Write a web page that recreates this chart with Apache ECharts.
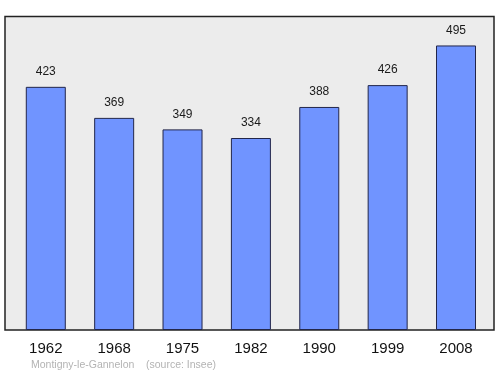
<!DOCTYPE html>
<html>
<head>
<meta charset="utf-8">
<script src="https://cdn.jsdelivr.net/npm/echarts@6/dist/echarts.min.js"></script>
<style>html,body{margin:0;padding:0;background:#fff;}#c{width:500px;height:374px;}</style>
</head>
<body>
<div id="c"></div>
<script>
const years = ['1962', '1968', '1975', '1982', '1990', '1999', '2008'];
const population = [423, 369, 349, 334, 388, 426, 495];
const placeName = 'Montigny-le-Gannelon';
const sourceText = '(source: Insee)';

const chart = echarts.init(document.getElementById('c'), null, {renderer: 'canvas'});
chart.setOption({
  animation: false,
  backgroundColor: '#ffffff',
  textStyle: {fontFamily: '"Liberation Sans", Arial, sans-serif'},
  grid: {left: 11.6, right: 9.8, top: 17, bottom: 44, containLabel: false},
  graphic: [
    {type: 'rect', z: -10, shape: {x: 5, y: 16.5, width: 489, height: 313.5},
     style: {fill: '#ececec', stroke: '#222222', lineWidth: 1.5}},
    {type: 'text', left: 31, top: 360, style: {text: placeName, fill: '#b3b3b3', font: '10.5px "Liberation Sans", Arial, sans-serif'}},
    {type: 'text', left: 146, top: 360, style: {text: sourceText, fill: '#b3b3b3', font: '10.5px "Liberation Sans", Arial, sans-serif'}}
  ],
  xAxis: {
    type: 'category', data: years,
    axisLine: {show: false}, axisTick: {show: false},
    axisLabel: {color: '#111', fontSize: 15, margin: 11, fontFamily: '"Liberation Sans", Arial, sans-serif'}
  },
  yAxis: {type: 'value', min: 0, max: 544.5, show: false, splitLine: {show: false}},
  series: [{
    type: 'bar', data: population, barWidth: 40,
    itemStyle: {color: '#7094ff', borderColor: '#22264a', borderWidth: 1},
    label: {show: true, position: 'top', distance: 9, color: '#1a1a1a', fontSize: 12,
            fontFamily: '"Liberation Sans", Arial, sans-serif'}
  }]
});
</script>
</body>
</html>
